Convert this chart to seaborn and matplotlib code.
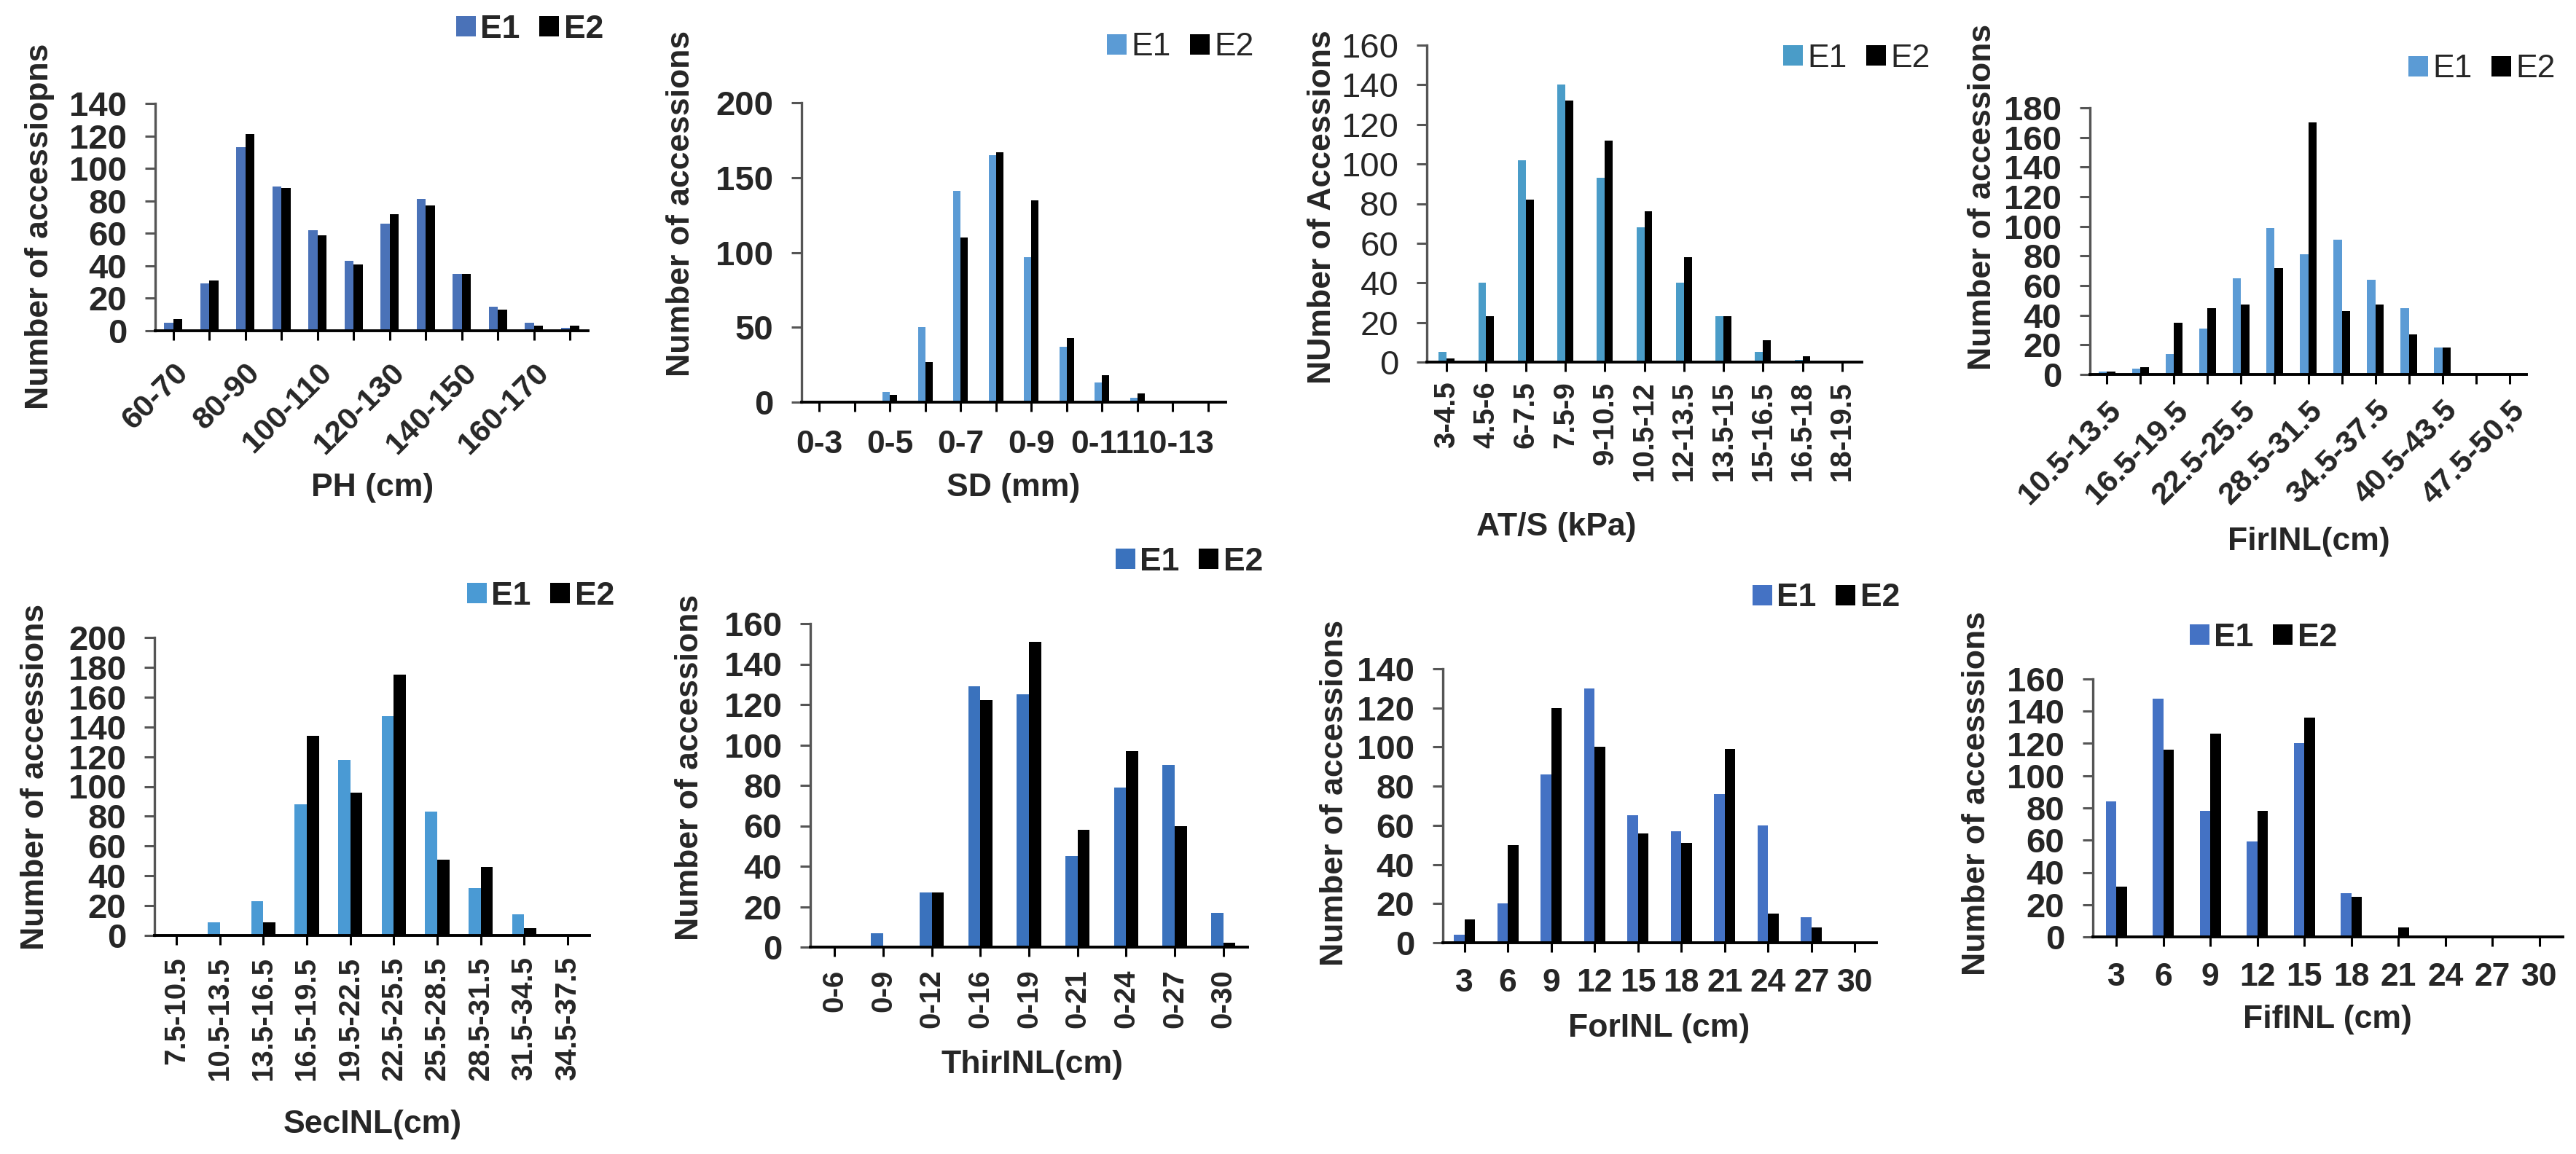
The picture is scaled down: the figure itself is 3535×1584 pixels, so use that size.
import matplotlib
matplotlib.use("Agg")
import matplotlib.pyplot as plt
import seaborn as sns
import pandas as pd

W, H = 3535, 1584

# ---- data ----
ph_labels = ["60-70", "", "80-90", "", "100-110", "", "120-130", "", "140-150", "", "160-170", ""]
ph_e1 = [5, 29, 113, 89, 62, 43, 66, 81, 35, 15, 5, 2]
ph_e2 = [7, 31, 121, 88, 59, 41, 72, 77, 35, 13, 3, 3]

sd_labels = ["0-3", "", "0-5", "", "0-7", "", "0-9", "", "0-11", "", "10-13", ""]
sd_e1 = [0, 1, 7, 50, 141, 165, 97, 37, 13, 3, 0, 0]
sd_e2 = [0, 0, 5, 27, 110, 167, 135, 43, 18, 6, 0, 0]

ats_labels = ["3-4.5", "4.5-6", "6-7.5", "7.5-9", "9-10.5", "10.5-12",
              "12-13.5", "13.5-15", "15-16.5", "16.5-18", "18-19.5"]
ats_e1 = [5, 40, 102, 140, 93, 68, 40, 23, 5, 1, 0]
ats_e2 = [2, 23, 82, 132, 112, 76, 53, 23, 11, 3, 0]

fir_labels = ["10.5-13.5", "", "16.5-19.5", "", "22.5-25.5", "", "28.5-31.5", "",
              "34.5-37.5", "", "40.5-43.5", "", "47.5-50,5"]
fir_e1 = [2, 4, 14, 31, 65, 99, 81, 91, 64, 45, 18, 0, 0]
fir_e2 = [2, 5, 35, 45, 47, 72, 170, 43, 47, 27, 18, 0, 0]

sec_labels = ["7.5-10.5", "10.5-13.5", "13.5-16.5", "16.5-19.5", "19.5-22.5",
              "22.5-25.5", "25.5-28.5", "28.5-31.5", "31.5-34.5", "34.5-37.5"]
sec_e1 = [0, 9, 23, 88, 118, 147, 83, 32, 14, 0]
sec_e2 = [0, 0, 9, 134, 96, 175, 51, 46, 5, 0]

thir_labels = ["0-6", "0-9", "0-12", "0-16", "0-19", "0-21", "0-24", "0-27", "0-30"]
thir_e1 = [0, 7, 27, 129, 125, 45, 79, 90, 17]
thir_e2 = [0, 0, 27, 122, 151, 58, 97, 60, 2]

for_labels = ["3", "6", "9", "12", "15", "18", "21", "24", "27", "30"]
for_e1 = [4, 20, 86, 130, 65, 57, 76, 60, 13, 0]
for_e2 = [12, 50, 120, 100, 56, 51, 99, 15, 8, 0]

fif_labels = ["3", "6", "9", "12", "15", "18", "21", "24", "27", "30"]
fif_e1 = [84, 148, 78, 59, 120, 27, 0, 0, 0, 0]
fif_e2 = [31, 116, 126, 78, 136, 25, 6, 0, 0, 0]

sns.set_style("white")
plt.rcParams["font.family"] = ["Liberation Sans", "DejaVu Sans"]

fig = plt.figure(figsize=(W / 100, H / 100), dpi=100)


def fx(px):
    return px / W


def fy(py):
    return 1 - py / H


def panel(labels, e1, e2, ymax, ystep, box, c1, width, xlab, ylab,
          xlab_xy, ylab_xy, leg_xy, rot=0, xpad=18, tick_w="bold",
          ytick_w="bold", leg_w="normal"):
    n = len(labels)
    df = pd.DataFrame({
        "bin": list(range(n)) * 2,
        "count": e1 + e2,
        "env": ["E1"] * n + ["E2"] * n,
    })
    l, t, r, b = box
    ax = fig.add_axes([fx(l), fy(b), (r - l) / W, (b - t) / H])
    sns.barplot(data=df, x="bin", y="count", hue="env",
                palette={"E1": c1, "E2": "black"}, saturation=1,
                width=width, gap=0, linewidth=0, ax=ax)
    sns.despine(ax=ax)
    ax.set_xlim(-0.5, n - 0.5)
    ax.set_ylim(0, ymax)
    ax.set_yticks(range(0, ymax + 1, ystep))
    ax.set_xticks(range(n))
    if rot == 45:
        ax.set_xticklabels(labels, rotation=45, ha="right", rotation_mode="anchor",
                           fontsize=31, weight=tick_w)
    elif rot == 90:
        ax.set_xticklabels(labels, rotation=90, ha="center", va="top",
                           fontsize=29, weight=tick_w)
    else:
        ax.set_xticklabels(labels, fontsize=32, weight=tick_w)
    for lab in ax.get_yticklabels():
        lab.set_fontsize(34)
        lab.set_fontweight(ytick_w)
    ax.tick_params(axis="y", direction="out", length=10, width=2.2, pad=18,
                   left=True, color="#555555")
    ax.tick_params(axis="x", direction="out", length=9, width=2.2, pad=xpad,
                   bottom=True, color="black")
    ax.spines["left"].set_linewidth(2.4)
    ax.spines["left"].set_color("#555555")
    ax.spines["bottom"].set_linewidth(2.8)
    ax.spines["bottom"].set_color("black")

    ax.set_xlabel(xlab, fontsize=32, weight="bold")
    ax.xaxis.set_label_coords(fx(xlab_xy[0]), fy(xlab_xy[1]), transform=fig.transFigure)
    ax.xaxis.label.set_va("center")
    ax.set_ylabel(ylab, fontsize=32, weight="bold")
    ax.yaxis.set_label_coords(fx(ylab_xy[0]), fy(ylab_xy[1]), transform=fig.transFigure)
    ax.yaxis.label.set_va("center")

    handles, names = ax.get_legend_handles_labels()
    ax.legend(handles, names, ncol=2, frameon=False, loc="center",
              bbox_to_anchor=(fx(leg_xy[0]), fy(leg_xy[1])),
              bbox_transform=fig.transFigure, handlelength=0.6, handleheight=0.6,
              handletextpad=0.15, columnspacing=0.6,
              prop={"size": 32, "weight": leg_w})
    return ax


panel(ph_labels, ph_e1, ph_e2, 140, 20, (213, 142, 807, 454), "#4a72b8", 0.5,
      "PH (cm)", "Number of accessiopns", (511, 669), (55, 311), (727, 40),
      rot=45, xpad=18, leg_w="bold")
panel(sd_labels, sd_e1, sd_e2, 200, 50, (1100, 141, 1682, 552), "#5b9bd5", 0.42,
      "SD (mm)", "Number of accessions", (1391, 669), (935, 279), (1620, 65))
panel(ats_labels, ats_e1, ats_e2, 160, 20, (1958, 62, 2555, 497), "#4a9cc8", 0.4,
      "AT/S (kPa)", "NUmber of Accessions", (2136, 724), (1815, 284), (2548, 80),
      rot=90, xpad=10, ytick_w="normal")
panel(fir_labels, fir_e1, fir_e2, 180, 20, (2868, 148, 3467, 514), "#5b9bd5", 0.5,
      "FirINL(cm)", "Number of accessions", (3168, 744), (2720, 270), (3406, 95),
      rot=45, xpad=12)
panel(sec_labels, sec_e1, sec_e2, 200, 20, (212, 875, 809, 1284), "#4a9ad4", 0.56,
      "SecINL(cm)", "Number of accessions", (511, 1544), (49, 1066), (742, 818),
      rot=90, xpad=12, leg_w="bold")
panel(thir_labels, thir_e1, thir_e2, 160, 20, (1112, 856, 1712, 1300), "#3a72bd", 0.5,
      "ThirINL(cm)", "Number of accessions", (1417, 1462), (946, 1053), (1632, 771),
      rot=90, xpad=13, leg_w="bold")
panel(for_labels, for_e1, for_e2, 140, 20, (1980, 918, 2575, 1294), "#4472c4", 0.48,
      "ForINL (cm)", "Number of accessions", (2277, 1411), (1832, 1088), (2506, 821),
      xpad=16, leg_w="bold")
panel(fif_labels, fif_e1, fif_e2, 160, 20, (2872, 932, 3517, 1286), "#4472c4", 0.45,
      "FifINL (cm)", "Number of accesssions", (3194, 1400), (2712, 1089), (3106, 875),
      xpad=16, leg_w="bold")

fig.savefig("out.png", dpi=100, facecolor="white")
